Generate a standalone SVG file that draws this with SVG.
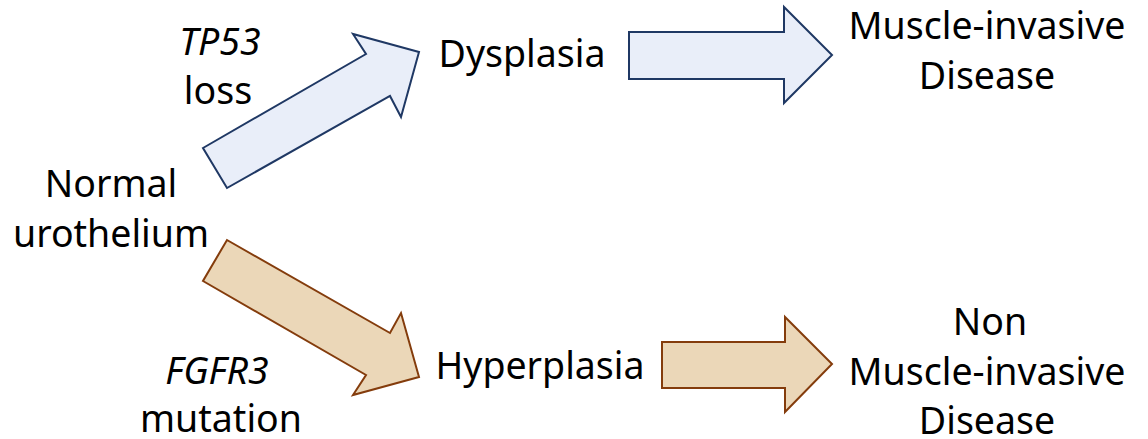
<svg xmlns="http://www.w3.org/2000/svg" width="1148" height="439" viewBox="0 0 1148 439">
<style>
text{font-family:"Noto Sans","Liberation Sans",sans-serif;font-size:37.5px;fill:#000;text-anchor:middle}
.it{font-style:italic}
.blue{fill:#E9EEF9;stroke:#1F3864;stroke-width:2;stroke-linejoin:miter}
.tan{fill:#EBD7B8;stroke:#843C0C;stroke-width:2;stroke-linejoin:miter}
</style>
<rect width="1148" height="439" fill="#fff"/>
<g id="connectors">
<polygon id="arrow-normal-dysplasia" class="blue" points="203,148 366,54 353,34 419,52 401,117 390,96 227,188"/>
<polygon id="arrow-dysplasia-mid" class="blue" points="629,32 784,32 784,7 832,55 784,103 784,79 629,79"/>
<polygon id="arrow-normal-hyperplasia" class="tan" points="227,240 390,333 401,313 419,377 353,395 366,375 203,281"/>
<polygon id="arrow-hyperplasia-nmid" class="tan" points="662,342 785,342 785,317 832,364 785,412 785,388 662,388"/>
</g>
<g id="normal"><text x="111" y="197">Normal</text><text x="111" y="247">urothelium</text></g>
<g id="label-tp53"><text x="220" y="55" class="it">TP53</text><text x="218" y="104">loss</text></g>
<g id="label-fgfr3"><text x="217" y="384" class="it">FGFR3</text><text x="221" y="432">mutation</text></g>
<g id="dysplasia"><text x="522" y="67">Dysplasia</text></g>
<g id="hyperplasia"><text x="540" y="379">Hyperplasia</text></g>
<g id="mid"><text x="987" y="39">Muscle-invasive</text><text x="987" y="89">Disease</text></g>
<g id="nmid"><text x="990" y="335">Non</text><text x="987" y="385">Muscle-invasive</text><text x="987" y="434">Disease</text></g>
</svg>
